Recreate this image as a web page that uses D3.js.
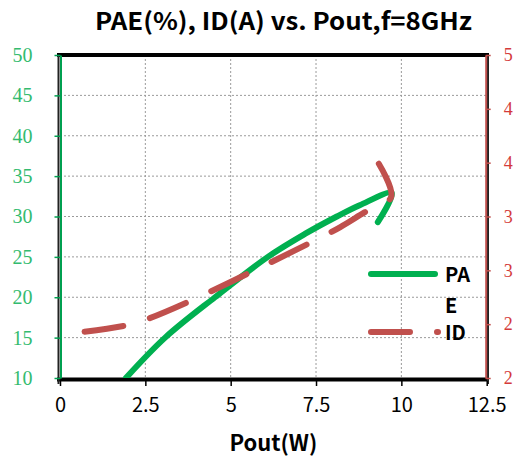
<!DOCTYPE html>
<html>
<head>
<meta charset="utf-8">
<script src="https://cdn.jsdelivr.net/npm/d3@7"></script>
<style>
  body { margin: 0; background: #fff; }
  svg { display: block; }
</style>
</head>
<body>
<div id="chart"></div>
<script>
// PAE and ID vs Pout
var paePout = [1.93, 3.08, 4.54, 6.09, 7.20, 8.11, 8.78, 9.72, 9.31];
var paeVals = [10.0, 15.0, 20.0, 25.0, 27.9, 30.0, 31.4, 32.9, 29.3];
var idPout = [0.72, 1.96, 2.58, 3.78, 5.50, 7.23, 8.20, 8.93, 9.70, 9.34];
var idVals = [2.43, 2.49, 2.55, 2.71, 2.97, 3.24, 3.40, 3.54, 3.68, 3.99];
var xTicks = [0, 2.5, 5, 7.5, 10, 12.5];
var leftTicks = [10, 15, 20, 25, 30, 35, 40, 45, 50];
var rightTicks = [2, 2.5, 3, 3.5, 4, 4.5, 5];

var width = 513, height = 460;
// plot box
var pL = 60, pR = 486.7, pT = 55, pB = 378;

var svg = d3.select("#chart").append("svg")
	.attr("width", width)
	.attr("height", height);

var x = d3.scaleLinear().domain([0, 12.5]).range([pL, pR]);
var yL = d3.scaleLinear().domain([10, 50]).range([pB, pT]);
var yR = d3.scaleLinear().domain([2, 5]).range([pB, pT]);

// grid
svg.append("g")
	.selectAll("line")
	.data(xTicks.slice(1, -1))
	.enter().append("line")
	.attr("x1", d => x(d)).attr("x2", d => x(d))
	.attr("y1", pT).attr("y2", pB)
	.attr("stroke", "#9a9a9a").attr("stroke-width", 1).attr("stroke-dasharray", "2,2");
svg.append("g")
	.selectAll("line")
	.data(leftTicks.slice(1, -1))
	.enter().append("line")
	.attr("x1", pL).attr("x2", pR)
	.attr("y1", d => yL(d)).attr("y2", d => yL(d))
	.attr("stroke", "#9a9a9a").attr("stroke-width", 1).attr("stroke-dasharray", "2,2");

// frame
svg.append("line").attr("x1", 57).attr("x2", 489).attr("y1", pT).attr("y2", pT)
	.attr("stroke", "#000").attr("stroke-width", 4);
svg.append("line").attr("x1", 57).attr("x2", 489).attr("y1", pB + 1.5).attr("y2", pB + 1.5)
	.attr("stroke", "#000").attr("stroke-width", 4);
svg.append("line").attr("x1", 58.5).attr("x2", 58.5).attr("y1", pT).attr("y2", pB + 6)
	.attr("stroke", "#222").attr("stroke-width", 2);
svg.append("line").attr("x1", 488).attr("x2", 488).attr("y1", pT).attr("y2", pB + 6)
	.attr("stroke", "#222").attr("stroke-width", 2);

// x axis
var xAxis = svg.append("g")
	.attr("transform", "translate(0," + (pB + 3) + ")")
	.call(d3.axisBottom(x).tickValues(xTicks).tickSize(5).tickPadding(12).tickFormat(d3.format("")));
xAxis.select(".domain").remove();
xAxis.selectAll("line").attr("stroke", "#000").attr("stroke-width", 1.5);
xAxis.selectAll("text")
	.attr("fill", "#000")
	.style("font-family", "'Noto Sans CJK SC', sans-serif")
	.style("font-size", "20px");

// left axis
var lAxis = svg.append("g")
	.attr("transform", "translate(" + (pL + 0.5) + ",0)")
	.call(d3.axisLeft(yL).tickValues(leftTicks).tickSize(6).tickPadding(22).tickSizeOuter(0));
lAxis.select(".domain").attr("stroke", "#00a050").attr("stroke-width", 2);
lAxis.selectAll("line").attr("stroke", "#00a050").attr("stroke-width", 1.5);
lAxis.selectAll("text")
	.attr("fill", "#33bb6e")
	.style("font-family", "'Liberation Serif', serif")
	.style("font-size", "20px");

// right axis (labels truncated like the original)
var rAxis = svg.append("g")
	.attr("transform", "translate(" + (pR - 1) + ",0)")
	.call(d3.axisRight(yR).tickValues(rightTicks).tickSize(5).tickPadding(13).tickSizeOuter(0)
		.tickFormat(d => Math.floor(d)));
rAxis.select(".domain").attr("stroke", "#c0504d").attr("stroke-width", 2);
rAxis.selectAll("line").attr("stroke", "#c0504d").attr("stroke-width", 1.5);
rAxis.selectAll("text")
	.attr("fill", "#d43a3a")
	.style("font-family", "'Liberation Serif', serif")
	.style("font-size", "18px");

// clip
svg.append("defs").append("clipPath").attr("id", "plotClip")
	.append("rect").attr("x", pL).attr("y", pT).attr("width", pR - pL).attr("height", pB - pT);

var paeLine = d3.line()
	.x((d, i) => x(paePout[i]))
	.y(d => yL(d))
	.curve(d3.curveCatmullRom.alpha(0.5));
var idLine = d3.line()
	.x((d, i) => x(idPout[i]))
	.y(d => yR(d))
	.curve(d3.curveCatmullRom.alpha(0.5));

var plot = svg.append("g").attr("clip-path", "url(#plotClip)");
plot.append("path")
	.datum(paeVals)
	.attr("d", paeLine)
	.attr("fill", "none")
	.attr("stroke", "#00b050")
	.attr("stroke-width", 6)
	.attr("stroke-linecap", "round")
	.attr("stroke-linejoin", "round");
plot.append("path")
	.datum(idVals)
	.attr("d", idLine)
	.attr("fill", "none")
	.attr("stroke", "#c0504d")
	.attr("stroke-width", 6)
	.attr("stroke-dasharray", "39,28")
	.attr("stroke-linecap", "round")
	.attr("stroke-linejoin", "round");

// legend
var leg = svg.append("g").style("font-family", "'Noto Sans CJK SC', sans-serif")
	.style("font-weight", "bold").style("font-size", "20px");
leg.append("line").attr("x1", 371).attr("x2", 435).attr("y1", 274).attr("y2", 274)
	.attr("stroke", "#00b050").attr("stroke-width", 6).attr("stroke-linecap", "round");
leg.append("text").attr("x", 445).attr("y", 282).text("PA");
leg.append("text").attr("x", 445).attr("y", 313).text("E");
leg.append("line").attr("x1", 371).attr("x2", 438).attr("y1", 332).attr("y2", 332)
	.attr("stroke", "#c0504d").attr("stroke-width", 6).attr("stroke-linecap", "round")
	.attr("stroke-dasharray", "39,27");
leg.append("text").attr("x", 445).attr("y", 340).text("ID");

// title
svg.append("text")
	.attr("x", 95).attr("y", 30)
	.attr("textLength", 377).attr("lengthAdjust", "spacingAndGlyphs")
	.style("font-family", "'Noto Sans CJK SC', sans-serif")
	.style("font-weight", "bold").style("font-size", "24px")
	.text("PAE(%), ID(A)  vs. Pout,f=8GHz");

// x label
svg.append("text")
	.attr("x", (pL + pR) / 2).attr("y", 451)
	.attr("text-anchor", "middle")
	.style("font-family", "'Noto Sans CJK SC', sans-serif")
	.style("font-weight", "bold").style("font-size", "22px")
	.text("Pout(W)");
</script>
</body>
</html>
